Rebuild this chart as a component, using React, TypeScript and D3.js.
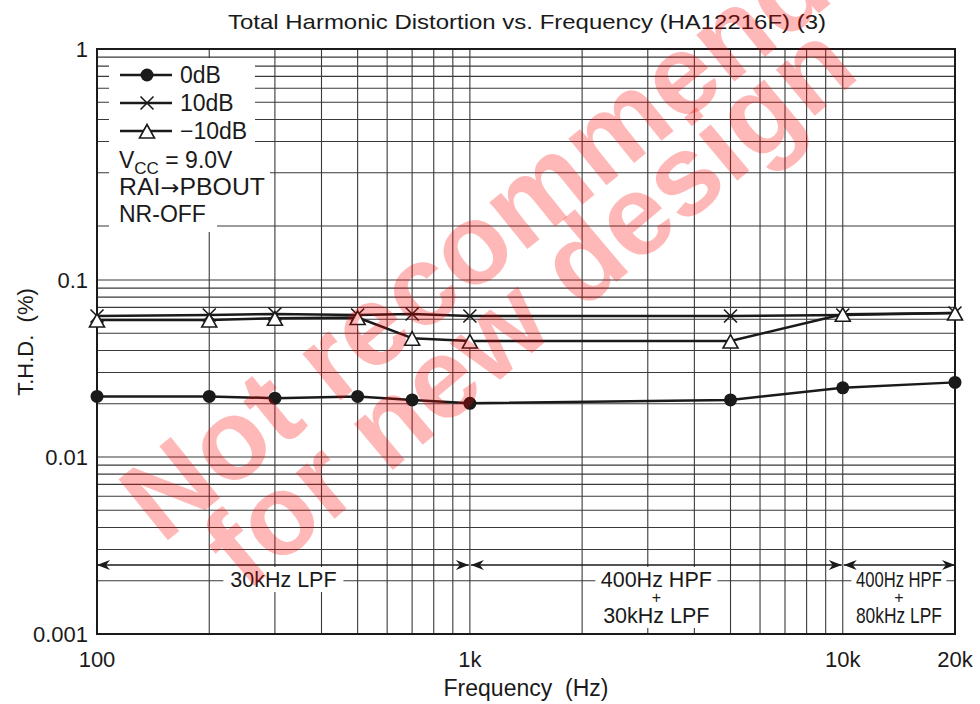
import React from 'react';
import * as d3 from 'd3';

const freqs = [100, 200, 300, 500, 700, 1000, 5000, 10000, 20000];
const thd0dB = [0.022, 0.022, 0.0215, 0.022, 0.021, 0.0201, 0.021, 0.0246, 0.0264];
const thd10dB = [0.0626, 0.0634, 0.0643, 0.0634, 0.0643, 0.0626, 0.0626, 0.0634, 0.0651];
const thdM10dB = [0.0594, 0.0594, 0.0608, 0.0614, 0.0469, 0.0452, 0.0452, 0.064, 0.0651];

const xTickValues = [100, 1000, 10000, 20000];
const xTickLabels = ['100', '1k', '10k', '20k'];
const yTickValues = [1, 0.1, 0.01, 0.001];
const yTickLabels = ['1', '0.1', '0.01', '0.001'];

const bandStarts = [100, 1000, 10000];
const bandEnds = [1000, 10000, 20000];
const bandLabels = [['30kHz LPF'], ['400Hz HPF', '+', '30kHz LPF'], ['400Hz HPF', '+', '80kHz LPF']];

const legendLabels = ['0dB', '10dB', '\u221210dB'];
const title = 'Total Harmonic Distortion vs. Frequency (HA12216F) (3)';

const FONT = 'Liberation Sans, Arial, Helvetica, sans-serif';
const INK = '#1a1a1a';

export default function App() {
  const W = 980, H = 704;
  const left = 97, right = 955, top = 49, bottom = 634;
  const x = d3.scaleLog().domain([100, 20000]).range([left, right]);
  const yMain = d3.scaleLog().domain([0.001, 0.1]).range([bottom, 280]);
  const yTop = d3.scaleLog().domain([0.1, 1]).range([226, top]);
  const yOf = (v: number) => (v > 0.1 ? yTop(v) : yMain(v));

  const hMain: number[] = [];
  [0.001, 0.01].forEach((d) => { for (let k = 1; k <= 9; k++) hMain.push(k * d); });
  hMain.push(0.1);
  const hTop: number[] = [];
  for (let k = 1; k <= 10; k++) hTop.push(k * 0.1);
  const vLines: number[] = [];
  [100, 1000].forEach((d) => { for (let k = 1; k <= 9; k++) vLines.push(k * d); });
  vLines.push(10000, 20000);

  const line = d3.line<number>().x((_, i) => x(freqs[i])).y((v) => yMain(v));

  const circle = (cx: number, cy: number, key: string) => (
    <circle key={key} cx={cx} cy={cy} r={6.5} fill={INK} />
  );
  const cross = (cx: number, cy: number, key: string) => (
    <g key={key} stroke={INK} strokeWidth={1.6}>
      <line x1={cx - 6.5} y1={cy - 6.5} x2={cx + 6.5} y2={cy + 6.5} />
      <line x1={cx - 6.5} y1={cy + 6.5} x2={cx + 6.5} y2={cy - 6.5} />
    </g>
  );
  const tri = (cx: number, cy: number, key: string) => (
    <path key={key} d={`M${cx},${cy - 6.5}L${cx + 7.5},${cy + 7}L${cx - 7.5},${cy + 7}Z`} fill="#fff" stroke={INK} strokeWidth={1.6} />
  );

  const arrowY = 565;
  const arrowHead = (tipX: number, dir: number, key: string) => (
    <path key={key} d={`M${tipX},${arrowY}L${tipX - dir * 13},${arrowY - 5}L${tipX - dir * 9},${arrowY}L${tipX - dir * 13},${arrowY + 5}Z`} fill={INK} />
  );

  const maskW = [120, 122, 95];
  const legendRows = [75, 103, 131];
  const markers = [circle, cross, tri];
  const LF = 23;

  return (
    <div style={{ position: 'absolute', left: 0, top: 0 }}>
      <svg width={W} height={H} viewBox={`0 0 ${W} ${H}`} style={{ display: 'block', background: '#fff' }}>
        <rect x={0} y={0} width={W} height={H} fill="#fff" />
        <text x={527} y={29} textAnchor="middle" fontFamily={FONT} fontSize={21} fill={INK}
          textLength={598} lengthAdjust="spacingAndGlyphs">{title}</text>

        <g stroke="#3a3a3a" strokeWidth={1.1}>
          {hMain.map((v, i) => <line key={'hm' + i} x1={left} x2={right} y1={yMain(v)} y2={yMain(v)} />)}
          {hTop.map((v, i) => <line key={'ht' + i} x1={left} x2={right} y1={yTop(v)} y2={yTop(v)} />)}
          {vLines.map((v, i) => <line key={'v' + i} x1={x(v)} x2={x(v)} y1={top} y2={bottom} />)}
        </g>

        <g fill="#fff">
          <rect x={109} y={58} width={146} height={86} />
          <rect x={109} y={144} width={146} height={26} />
          <rect x={109} y={170} width={161} height={30} />
          <rect x={109} y={200} width={108} height={32} />
          {bandStarts.map((s, i) => {
            const cx = x(Math.sqrt(s * bandEnds[i]));
            const h = bandLabels[i].length > 1 ? 61 : 25;
            return <rect key={'bm' + i} x={cx - maskW[i] / 2} y={567} width={maskW[i]} height={h} />;
          })}
        </g>

        <rect x={left} y={top} width={right - left} height={bottom - top} fill="none" stroke={INK} strokeWidth={2} />

        {legendRows.map((ly, i) => (
          <g key={'lg' + i}>
            <line x1={120} x2={172} y1={ly} y2={ly} stroke={INK} strokeWidth={2.5} />
            {markers[i](147, ly, 'lm' + i)}
            <text x={180} y={ly + 8} fontFamily={FONT} fontSize={LF} fill={INK}>{legendLabels[i]}</text>
          </g>
        ))}
        <text x={119} y={168} fontFamily={FONT} fontSize={LF} fill={INK}>
          V<tspan fontSize={17} dy={6}>CC</tspan><tspan dy={-6}>{'\u00a0'}= 9.0V</tspan>
        </text>
        <text x={119} y={195} fontFamily={FONT} fontSize={LF} fill={INK} textLength={146} lengthAdjust="spacingAndGlyphs">
          RAI<tspan fontFamily="DejaVu Sans" fontSize={21}>{'\u2192'}</tspan>PBOUT
        </text>
        <text x={119} y={222} fontFamily={FONT} fontSize={LF} fill={INK}>NR-OFF</text>

        {bandStarts.map((s, i) => {
          const x1 = x(s) + (i === 0 ? 0 : 1);
          const x2 = x(bandEnds[i]) - (i === bandStarts.length - 1 ? 0 : 1);
          const cx = x(Math.sqrt(s * bandEnds[i]));
          const condensed = i === 2;
          const lines = bandLabels[i];
          return (
            <g key={'band' + i}>
              <line x1={x1} x2={x2} y1={arrowY} y2={arrowY} stroke={INK} strokeWidth={1.4} />
              {arrowHead(x1, -1, 'al' + i)}
              {arrowHead(x2, 1, 'ar' + i)}
              {lines.map((t, j) => {
                const isPlus = t === '+';
                const yy = lines.length === 1 ? 587 : [587, 603, 623][j];
                return (
                  <text key={'bt' + j} x={cx} y={yy} textAnchor="middle" fontFamily={FONT}
                    fontSize={isPlus ? 16 : 21.5} fill={INK}
                    {...(condensed && !isPlus ? { textLength: 86, lengthAdjust: 'spacingAndGlyphs' } : {})}>
                    {t}
                  </text>
                );
              })}
            </g>
          );
        })}

        <g fill="none" stroke={INK} strokeWidth={2.5} strokeLinejoin="round">
          <path d={line(thdM10dB) || ''} />
          <path d={line(thd10dB) || ''} />
          <path d={line(thd0dB) || ''} />
        </g>
        {thd0dB.map((v, i) => circle(x(freqs[i]), yMain(v), 'c' + i))}
        {thd10dB.map((v, i) => cross(x(freqs[i]), yMain(v), 'x' + i))}
        {thdM10dB.map((v, i) => tri(x(freqs[i]), yMain(v), 't' + i))}

        {yTickValues.map((v, i) => (
          <text key={'yt' + i} x={88} y={yOf(v) + 8} textAnchor="end" fontFamily={FONT} fontSize={22} fill={INK}>{yTickLabels[i]}</text>
        ))}
        {xTickValues.map((v, i) => (
          <text key={'xt' + i} x={x(v)} y={667} textAnchor="middle" fontFamily={FONT} fontSize={22} fill={INK}>{xTickLabels[i]}</text>
        ))}
        <text x={526} y={696} textAnchor="middle" fontFamily={FONT} fontSize={23} fill={INK}>Frequency{'\u00a0\u00a0'}(Hz)</text>
        <text transform="translate(33,342) rotate(-90)" textAnchor="middle" fontFamily={FONT} fontSize={22} fill={INK}>T.H.D.{'\u00a0\u00a0'}(%)</text>

        <g fill="#ff0000" fillOpacity={0.28} fontFamily={FONT} fontWeight="bold" fontSize={114}>
          <text transform="translate(162,545) rotate(-39)">Not recommended</text>
          <text transform="translate(246,593) rotate(-40)">for new design</text>
        </g>
      </svg>
    </div>
  );
}
